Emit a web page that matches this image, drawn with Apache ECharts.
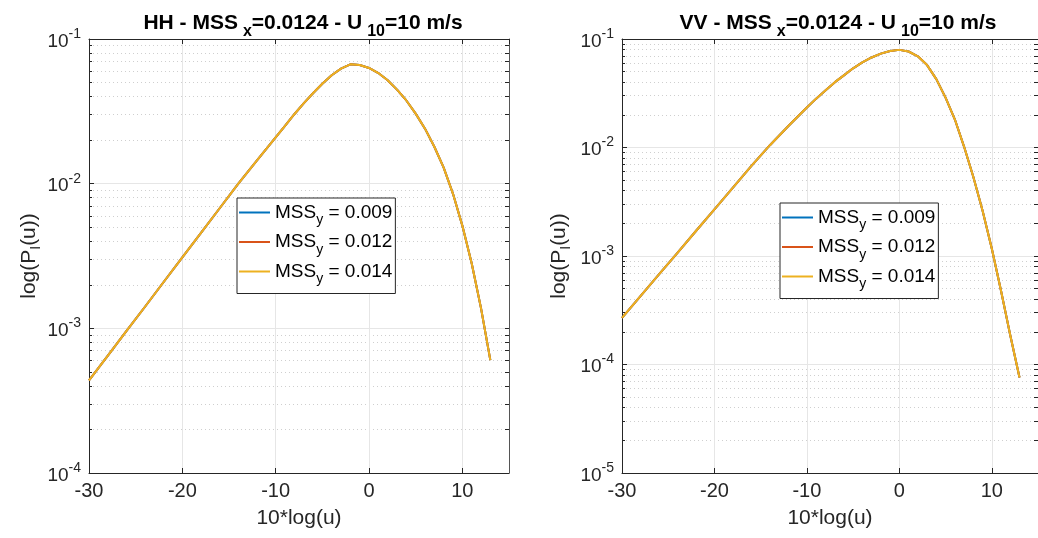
<!DOCTYPE html>
<html>
<head>
<meta charset="utf-8">
<script src="https://cdn.jsdelivr.net/npm/echarts@6/dist/echarts.min.js"></script>
<style>
html,body{margin:0;padding:0;background:#fff;}
#c{width:1038px;height:538px;}
</style>
</head>
<body>
<div id="c"></div>
<script>
// ---- data ----
const xVals = [-30,-28,-26,-24,-22,-20,-18,-16,-14,-12,-10,-9,-8,-7,-6,-5,-4,-3,-2,-1,0,1,2,3,4,5,6,7,8,9,10,11,12,13];
const hh009 = [4.37e-4,6.46e-4,9.55e-4,1.41e-3,2.09e-3,3.09e-3,4.57e-3,6.76e-3,1.00e-2,1.45e-2,2.09e-2,2.51e-2,3.02e-2,3.59e-2,4.22e-2,4.90e-2,5.62e-2,6.24e-2,6.68e-2,6.61e-2,6.31e-2,5.82e-2,5.19e-2,4.47e-2,3.76e-2,3.05e-2,2.40e-2,1.80e-2,1.29e-2,8.51e-3,5.13e-3,2.82e-3,1.38e-3,6.03e-4];
const hh012 = [4.37e-4,6.46e-4,9.55e-4,1.41e-3,2.09e-3,3.09e-3,4.57e-3,6.76e-3,1.00e-2,1.45e-2,2.09e-2,2.51e-2,3.02e-2,3.59e-2,4.22e-2,4.90e-2,5.62e-2,6.24e-2,6.68e-2,6.61e-2,6.31e-2,5.82e-2,5.19e-2,4.47e-2,3.76e-2,3.05e-2,2.40e-2,1.80e-2,1.29e-2,8.51e-3,5.13e-3,2.82e-3,1.38e-3,6.03e-4];
const hh014 = [4.37e-4,6.46e-4,9.55e-4,1.41e-3,2.09e-3,3.09e-3,4.57e-3,6.76e-3,1.00e-2,1.45e-2,2.09e-2,2.51e-2,3.02e-2,3.59e-2,4.22e-2,4.90e-2,5.62e-2,6.24e-2,6.68e-2,6.61e-2,6.31e-2,5.82e-2,5.19e-2,4.47e-2,3.76e-2,3.05e-2,2.40e-2,1.80e-2,1.29e-2,8.51e-3,5.13e-3,2.82e-3,1.38e-3,6.03e-4];
const vv009 = [2.69e-4,4.27e-4,6.76e-4,1.07e-3,1.70e-3,2.69e-3,4.27e-3,6.76e-3,1.05e-2,1.58e-2,2.34e-2,2.82e-2,3.35e-2,3.98e-2,4.62e-2,5.37e-2,6.10e-2,6.76e-2,7.33e-2,7.76e-2,7.94e-2,7.67e-2,6.92e-2,5.75e-2,4.27e-2,2.88e-2,1.82e-2,1.02e-2,5.37e-3,2.63e-3,1.17e-3,4.79e-4,1.86e-4,7.59e-5];
const vv012 = [2.69e-4,4.27e-4,6.76e-4,1.07e-3,1.70e-3,2.69e-3,4.27e-3,6.76e-3,1.05e-2,1.58e-2,2.34e-2,2.82e-2,3.35e-2,3.98e-2,4.62e-2,5.37e-2,6.10e-2,6.76e-2,7.33e-2,7.76e-2,7.94e-2,7.67e-2,6.92e-2,5.75e-2,4.27e-2,2.88e-2,1.82e-2,1.02e-2,5.37e-3,2.63e-3,1.17e-3,4.79e-4,1.86e-4,7.59e-5];
const vv014 = [2.69e-4,4.27e-4,6.76e-4,1.07e-3,1.70e-3,2.69e-3,4.27e-3,6.76e-3,1.05e-2,1.58e-2,2.34e-2,2.82e-2,3.35e-2,3.98e-2,4.62e-2,5.37e-2,6.10e-2,6.76e-2,7.33e-2,7.76e-2,7.94e-2,7.67e-2,6.92e-2,5.75e-2,4.27e-2,2.88e-2,1.82e-2,1.02e-2,5.37e-3,2.63e-3,1.17e-3,4.79e-4,1.86e-4,7.59e-5];
const seriesNames = ['MSS_y = 0.009','MSS_y = 0.012','MSS_y = 0.014'];
const legendValues = ['0.009','0.012','0.014'];
const titles = [['HH','0.0124','10','10 m/s'],['VV','0.0124','10','10 m/s']];
const yRanges = [[1e-4,1e-1],[1e-5,1e-1]];

// ---- helpers ----
const FONT = '"Liberation Sans", Arial, Helvetica, sans-serif';
const AX = '#262626';
const colors = ['#0072BD','#D95319','#EDB120'];
function minorTicks(lo, hi){
  const out=[];
  for(let e=Math.round(Math.log10(lo)); e<Math.round(Math.log10(hi)); e++){
    for(let m=2;m<=9;m++) out.push(+(m*Math.pow(10,e)).toPrecision(3));
  }
  return out;
}
function majorTicks(lo, hi){
  const out=[];
  for(let e=Math.round(Math.log10(lo)); e<=Math.round(Math.log10(hi)); e++) out.push(+Math.pow(10,e).toPrecision(3));
  return out;
}
const grids = [
  {left:89, top:39, width:420, height:434},
  {left:622, top:39, width:418, height:434}
];
const xAxes=[], yAxes=[], series=[], titleOpts=[];
const pairs = [[xVals,[hh009,hh012,hh014]],[xVals,[vv009,vv012,vv014]]];
const nameGaps=[46,49];
grids.forEach((g,gi)=>{
  const [ylo,yhi]=yRanges[gi];
  const bx = xAxes.length;
  xAxes.push({type:'value',gridIndex:gi,position:'bottom',min:-30,max:15,interval:10,
    axisLine:{show:true,onZero:false,lineStyle:{color:AX,width:1}},
    axisTick:{show:true,inside:true,length:5,lineStyle:{color:AX}},
    axisLabel:{show:true,showMaxLabel:false,color:'#262626',fontSize:20,fontFamily:FONT,margin:8},
    splitLine:{show:true,lineStyle:{color:'#e6e6e6',width:1}},
    name:'10*log(u)',nameLocation:'middle',nameGap:35,
    nameTextStyle:{fontSize:21,color:'#262626',fontFamily:FONT}
  });
  xAxes.push({type:'value',gridIndex:gi,position:'top',min:-30,max:15,interval:10,
    axisLine:{show:true,onZero:false,lineStyle:{color:AX,width:1}},
    axisTick:{show:true,inside:true,length:5,lineStyle:{color:AX}},
    axisLabel:{show:false},splitLine:{show:false}
  });
  const by = yAxes.length;
  yAxes.push({type:'log',logBase:10,gridIndex:gi,position:'left',min:ylo,max:yhi,
    axisLine:{show:true,onZero:false,lineStyle:{color:AX,width:1}},
    axisTick:{show:true,inside:true,length:5,lineStyle:{color:AX}},
    axisLabel:{show:true,color:'#262626',fontFamily:FONT,margin:8,
      formatter:v=>'{b|10}{p|'+Math.round(Math.log10(v))+'}',
      rich:{b:{fontSize:19,fontFamily:FONT,color:'#262626',lineHeight:24,verticalAlign:'bottom'},
            p:{fontSize:14,fontFamily:FONT,color:'#262626',lineHeight:14,verticalAlign:'top'}}},
    splitLine:{show:true,lineStyle:{color:'#e6e6e6',width:1}},
    name:'{a|log(P}{s|I}{a|(u))}',nameLocation:'middle',nameGap:nameGaps[gi],nameRotate:90,
    nameTextStyle:{rich:{a:{fontSize:21,fontFamily:FONT,color:'#262626',lineHeight:28,verticalAlign:'middle'},
                         s:{fontSize:14,fontFamily:FONT,color:'#262626',lineHeight:12,verticalAlign:'bottom'}}}
  });
  yAxes.push({type:'log',logBase:10,gridIndex:gi,position:'left',min:ylo,max:yhi,
    axisLine:{show:false,onZero:false},
    axisTick:{show:true,inside:true,length:3,customValues:minorTicks(ylo,yhi),lineStyle:{color:AX}},
    axisLabel:{show:false},
    splitLine:{show:true,lineStyle:{color:'#cfcfcf',width:1,type:[1,3]}}
  });
  yAxes.push({type:'log',logBase:10,gridIndex:gi,position:'right',min:ylo,max:yhi,
    axisLine:{show:true,onZero:false,lineStyle:{color:'#555',width:1}},
    axisTick:{show:true,inside:true,length:4,customValues:majorTicks(ylo,yhi).concat(minorTicks(ylo,yhi)),lineStyle:{color:AX}},
    axisLabel:{show:false},splitLine:{show:false}
  });
  const [xs, ys] = pairs[gi];
  ys.forEach((arr,si)=>{
    series.push({type:'line',name:seriesNames[si],xAxisIndex:bx,yAxisIndex:by,
      data:xs.map((x,i)=>[x,arr[i]]),showSymbol:false,symbol:'none',smooth:false,
      lineStyle:{color:colors[si],width:2,join:'round'},itemStyle:{color:colors[si]},z:2+si});
  });
  const t=titles[gi];
  titleOpts.push({
    text:'{t|'+t[0]+' - MSS}{s|x}{t|='+t[1]+' - U}{s|'+t[2]+'}{t|='+t[3]+'}',
    left:g.left+g.width/2 + (gi===1?2:-1), top:1, textAlign:'center',
    textStyle:{rich:{t:{fontSize:21,fontWeight:'bold',fontFamily:FONT,color:'#000',lineHeight:34,verticalAlign:'middle'},
                     s:{fontSize:16,fontWeight:'bold',fontFamily:FONT,color:'#000',lineHeight:14,verticalAlign:'bottom',padding:[0,0,0,5]}}}
  });
});
const legendPos=[{left:237,top:198},{left:780,top:203}];
const legendOpts = legendPos.map(l=>({
  left:l.left, top:l.top, orient:'vertical', data:seriesNames,
  backgroundColor:'#fff', borderColor:'#262626', borderWidth:1, padding:[5,3,7,2],
  itemGap:5, itemWidth:31, itemHeight:2, icon:'rect',
  selectedMode:false,
  formatter:n=>'{m|MSS}{s|y}{m| = '+legendValues[seriesNames.indexOf(n)]+'}',
  textStyle:{rich:{m:{fontSize:19,fontFamily:FONT,color:'#000',lineHeight:30,verticalAlign:'middle'},
                   s:{fontSize:14,fontFamily:FONT,color:'#000',lineHeight:10,verticalAlign:'bottom'}}}
}));
const chart = echarts.init(document.getElementById('c'),null,{renderer:'canvas'});
chart.setOption({
  animation:false,
  backgroundColor:'#fff',
  title:titleOpts,
  legend:legendOpts,
  grid:grids.map(g=>Object.assign({containLabel:false},g)),
  xAxis:xAxes,
  yAxis:yAxes,
  series:series
});
</script>
</body>
</html>
